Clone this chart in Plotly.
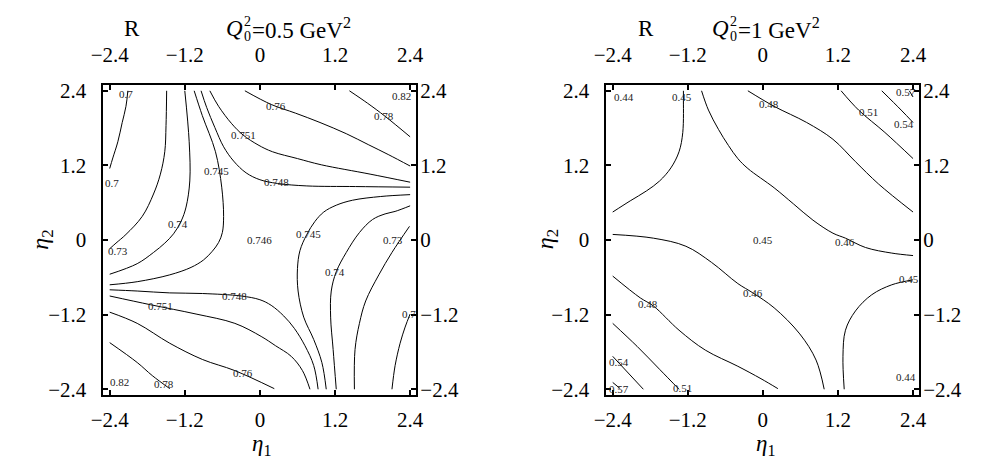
import plotly.graph_objects as go

# ---------------- left panel: R for Q0^2 = 0.5 GeV^2 ----------------
left_levels = [0.7, 0.73, 0.74, 0.745, 0.748, 0.751, 0.76, 0.78,
               0.7, 0.73, 0.74, 0.745, 0.748, 0.751, 0.76, 0.78]
left_x = [
    [-2.11, -2.14, -2.20, -2.27, -2.35, -2.40],
    [-1.49, -1.50, -1.52, -1.59, -1.70, -1.88, -2.14, -2.30, -2.40],
    [-1.20, -1.13, -1.12, -1.18, -1.26, -1.38, -1.52, -1.70, -1.96, -2.40],
    [-1.05, -0.92, -0.71, -0.61, -0.58, -0.60, -0.66, -0.76, -0.90, -1.10, -1.44, -1.96, -2.40],
    [-0.94, -0.85, -0.72, -0.58, -0.42, -0.22, 0.0, 0.28, 0.75, 1.53, 2.40],
    [-0.80, -0.66, -0.45, -0.27, -0.03, 0.20, 0.60, 0.98, 1.76, 2.40],
    [-0.24, 0.18, 0.57, 0.96, 1.38, 1.74, 2.06, 2.40],
    [1.43, 1.72, 2.00, 2.40],
    [2.11, 2.16, 2.24, 2.32, 2.40],
    [1.51, 1.52, 1.59, 1.69, 1.90, 2.11, 2.39],
    [1.22, 1.17, 1.13, 1.14, 1.22, 1.38, 1.59, 1.80, 2.00, 2.16, 2.40],
    [1.06, 0.99, 0.86, 0.70, 0.61, 0.60, 0.64, 0.75, 0.88, 1.02, 1.22, 1.48, 1.93, 2.40],
    [0.93, 0.86, 0.72, 0.55, 0.38, 0.18, 0.0, -0.30, -0.92, -1.44, -1.96, -2.40],
    [0.80, 0.68, 0.50, 0.25, 0.02, -0.40, -1.02, -1.75, -2.40],
    [0.23, -0.40, -0.92, -1.44, -1.96, -2.40],
    [-1.44, -1.72, -1.96, -2.40],
]
left_y = [
    [2.40, 2.15, 1.89, 1.58, 1.32, 1.15],
    [2.40, 1.84, 1.42, 1.06, 0.74, 0.38, 0.09, -0.05, -0.14],
    [2.40, 1.58, 0.95, 0.53, 0.30, 0.10, -0.05, -0.20, -0.38, -0.55],
    [2.40, 2.00, 1.42, 0.85, 0.38, 0.12, -0.04, -0.18, -0.32, -0.44, -0.56, -0.67, -0.72],
    [2.40, 2.13, 1.81, 1.50, 1.27, 1.08, 0.97, 0.91, 0.87, 0.86, 0.85],
    [2.40, 2.15, 1.87, 1.69, 1.53, 1.42, 1.31, 1.21, 1.06, 0.93],
    [2.40, 2.18, 2.04, 1.89, 1.71, 1.53, 1.37, 1.19],
    [2.40, 2.20, 1.99, 1.66],
    [-2.40, -2.02, -1.66, -1.40, -1.19],
    [-2.40, -1.76, -1.34, -0.98, -0.56, -0.20, 0.22],
    [-2.40, -1.76, -1.24, -0.82, -0.51, -0.20, 0.12, 0.33, 0.42, 0.46, 0.55],
    [-2.40, -1.97, -1.60, -1.24, -0.82, -0.46, -0.17, 0.09, 0.30, 0.45, 0.56, 0.64, 0.70, 0.73],
    [-2.40, -2.02, -1.70, -1.42, -1.22, -1.05, -0.96, -0.90, -0.86, -0.85, -0.82, -0.80],
    [-2.40, -2.10, -1.87, -1.70, -1.55, -1.34, -1.19, -1.04, -0.90],
    [-2.39, -2.10, -1.92, -1.66, -1.34, -1.16],
    [-2.39, -2.18, -1.97, -1.65],
]
left_label_val = [0.7, 0.7, 0.751, 0.745, 0.74, 0.76, 0.748, 0.82, 0.78, 0.73,
                  0.746, 0.748, 0.751, 0.76, 0.78, 0.82, 0.745, 0.74, 0.73, 0.7]
left_label_x = [-2.14, -2.36, -0.27, -0.69, -1.31, 0.26, 0.26, 2.26, 1.98, -2.27,
                0.0, -0.40, -1.59, -0.27, -1.54, -2.25, 0.77, 1.20, 2.13, 2.38]
left_label_y = [2.35, 0.91, 1.69, 1.11, 0.25, 2.15, 0.94, 2.31, 1.99, -0.18,
                0.0, -0.90, -1.06, -2.14, -2.31, -2.29, 0.10, -0.51, 0.0, -1.19]

# ---------------- right panel: R for Q0^2 = 1 GeV^2 ----------------
right_levels = [0.45, 0.46, 0.48, 0.51, 0.54, 0.57,
                0.46, 0.48, 0.51, 0.54, 0.57, 0.45]
right_x = [
    [-1.27, -1.27, -1.28, -1.34, -1.47, -1.65, -1.86, -2.12, -2.40],
    [-0.98, -0.87, -0.71, -0.55, -0.40, -0.24, 0.18, 0.49, 0.80, 1.12, 1.32, 1.64, 2.06, 2.40],
    [-0.24, 0.18, 0.70, 1.12, 1.48, 1.85, 2.40],
    [1.25, 1.53, 1.95, 2.40],
    [1.90, 2.21, 2.40],
    [2.34, 2.40],
    [-2.40, -1.75, -1.23, -0.82, -0.40, -0.16, 0.18, 0.59, 0.85, 0.98],
    [-2.40, -1.96, -1.75, -1.34, -0.92, -0.40, -0.03, 0.24],
    [-2.40, -2.01, -1.65, -1.34],
    [-2.40, -1.91],
    [-2.40, -2.28],
    [1.30, 1.28, 1.32, 1.48, 1.74, 2.06, 2.40],
]
right_y = [
    [2.40, 2.30, 1.73, 1.42, 1.16, 0.95, 0.79, 0.63, 0.45],
    [2.40, 2.09, 1.78, 1.52, 1.31, 1.15, 0.84, 0.58, 0.32, 0.11, 0.03, -0.12, -0.21, -0.25],
    [2.40, 2.15, 1.89, 1.62, 1.26, 0.90, 0.45],
    [2.40, 2.09, 1.73, 1.31],
    [2.40, 2.09, 1.89],
    [2.40, 2.30],
    [0.09, 0.03, -0.10, -0.36, -0.70, -0.85, -1.09, -1.51, -1.93, -2.40],
    [-0.58, -0.93, -1.06, -1.45, -1.77, -2.03, -2.23, -2.39],
    [-1.34, -1.71, -2.08, -2.40],
    [-1.87, -2.40],
    [-2.29, -2.39],
    [-2.40, -1.87, -1.45, -1.14, -0.88, -0.72, -0.64],
]
right_label_val = [0.44, 0.45, 0.48, 0.51, 0.54, 0.57, 0.45, 0.46, 0.45,
                   0.46, 0.48, 0.54, 0.57, 0.51, 0.44]
right_label_x = [-2.22, -1.29, 0.09, 1.69, 2.26, 2.29, 0.0, 1.32, 2.34,
                 -0.16, -1.83, -2.30, -2.30, -1.28, 2.29]
right_label_y = [2.30, 2.30, 2.18, 2.06, 1.87, 2.38, 0.0, -0.03, -0.63,
                 -0.85, -1.03, -1.96, -2.39, -2.38, -2.21]

tick_vals = [-2.4, -1.2, 0, 1.2, 2.4]
tick_text = ["\u22122.4", "\u22121.2", "0", "1.2", "2.4"]

SERIF = "Liberation Serif"
fig = go.Figure()

panels = [
    ("x", "y", left_levels, left_x, left_y, left_label_val, left_label_x, left_label_y),
    ("x2", "y2", right_levels, right_x, right_y, right_label_val, right_label_x, right_label_y),
]
annotations = []
for xa, ya, levels, xs, ys, lv, lx, ly in panels:
    for lvl, px, py in zip(levels, xs, ys):
        fig.add_trace(go.Scatter(
            x=px, y=py, xaxis=xa, yaxis=ya, mode="lines",
            line=dict(color="black", width=1, shape="spline", smoothing=1.0),
            name=f"{lvl:g}", showlegend=False, hoverinfo="skip"))
    for v, x, y in zip(lv, lx, ly):
        annotations.append(dict(
            x=x, y=y, xref=xa, yref=ya, text=f"{v:g}", showarrow=False,
            xanchor="center", yanchor="middle",
            font=dict(family=SERIF, size=11, color="#222")))

y_dom = [63 / 463, 381.5 / 463]
x_doms = [[92.3 / 989, 411.7 / 989], [605.7 / 989, 925 / 989]]

TICK_FONT = dict(family=SERIF, size=21, color="black")
frame = dict(range=[-2.5, 2.5], tickvals=tick_vals, ticktext=tick_text,
             ticks="inside", ticklen=5, tickwidth=1.5, tickcolor="black",
             showline=True, linewidth=2, linecolor="black", mirror="ticks",
             showgrid=False, zeroline=False, tickfont=TICK_FONT)
labels_only = dict(range=[-2.5, 2.5], tickvals=tick_vals, ticktext=tick_text,
                   ticks="", showline=False, showgrid=False, zeroline=False,
                   tickfont=TICK_FONT)

layout = dict(
    width=989, height=463, margin=dict(l=0, r=0, t=0, b=0),
    paper_bgcolor="white", plot_bgcolor="white", showlegend=False,
    xaxis=dict(domain=x_doms[0], anchor="y", ticklabelstandoff=4, **frame),
    yaxis=dict(domain=y_dom, anchor="x", ticklabelstandoff=11, **frame),
    xaxis2=dict(domain=x_doms[1], anchor="y2", ticklabelstandoff=4, **frame),
    yaxis2=dict(domain=y_dom, anchor="x2", ticklabelstandoff=11, **frame),
    xaxis3=dict(overlaying="x", anchor="y", side="top", ticklabelstandoff=17, **labels_only),
    yaxis3=dict(overlaying="y", anchor="x", side="right", ticklabelstandoff=3, **labels_only),
    xaxis4=dict(overlaying="x2", anchor="y2", side="top", ticklabelstandoff=17, **labels_only),
    yaxis4=dict(overlaying="y2", anchor="x2", side="right", ticklabelstandoff=3, **labels_only),
)
fig.update_layout(**layout)

# empty traces so the overlay label axes are drawn
for xa, ya in [("x3", "y3"), ("x4", "y4")]:
    fig.add_trace(go.Scatter(x=[None], y=[None], xaxis=xa, yaxis=ya,
                             mode="lines", showlegend=False, hoverinfo="skip"))


def paper_text(text, x, y, size, angle=0, xanchor="center"):
    return dict(text=text, x=x / 989, y=1 - y / 463, xref="paper", yref="paper",
                showarrow=False, textangle=angle, xanchor=xanchor, yanchor="middle",
                font=dict(family=SERIF, size=size, color="black"))


def q_title(x_q, rest, y=24):
    # Q with stacked subscript 0 and superscript 2, then the rest of the title
    return [
        paper_text("<i>Q</i>", x_q, y, 23),
        paper_text("2", x_q + 8, y - 7, 14, xanchor="left"),
        paper_text("0", x_q + 8, y + 8, 14, xanchor="left"),
        paper_text(rest, x_q + 16, y, 23, xanchor="left"),
    ]


annotations += [
    paper_text("R", 121, 24, 23),
    paper_text("R", 646, 24, 23),
    paper_text("<i>\u03b7</i><sub>2</sub>", 30, 240, 24, -90),
    paper_text("<i>\u03b7</i><sub>2</sub>", 545, 240, 24, -90),
    paper_text("<i>\u03b7</i><sub>1</sub>", 254, 451, 23),
    paper_text("<i>\u03b7</i><sub>1</sub>", 768, 451, 23),
]
annotations += q_title(226, "=0.5 GeV<sup>2</sup>")
annotations += q_title(722, "=1 GeV<sup>2</sup>")
fig.update_layout(annotations=annotations)

fig.write_html("out.html")
